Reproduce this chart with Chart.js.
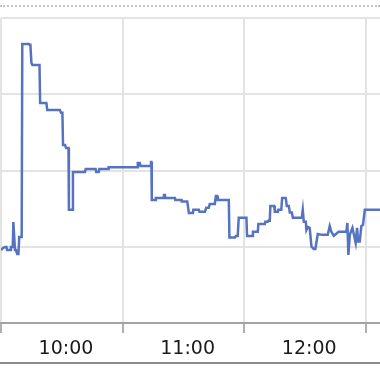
<!DOCTYPE html>
<html>
<head>
<meta charset="utf-8">
<script src="https://cdn.jsdelivr.net/npm/chart.js@4.4.0/dist/chart.umd.min.js"></script>
<style>
  html, body { margin: 0; padding: 0; background: #fff; overflow: hidden; }
  #wrap { position: relative; width: 380px; height: 372px; }
  #topRule { position: absolute; left: 0; top: 5px; width: 380px; border-top: 2px dotted #c4c4c4; }
  #bottomRule { position: absolute; left: 0; top: 362px; width: 380px; height: 2px; background: #8a8a8a; }
</style>
</head>
<body>
<div id="wrap">
  <canvas id="chart"></canvas>
  <div id="topRule"></div>
  <div id="bottomRule"></div>
</div>
<script>
// time in minutes since midnight, value on a 0..100 scale
const times = [
    570.0, 571.0, 572.0, 572.7, 573.0, 574.7, 574.9, 575.8, 576.1, 576.9,
    577.4, 578.0, 578.6, 579.0, 580.2, 580.5, 583.8, 584.1, 584.5, 585.0,
    585.5, 589.0, 589.3, 592.4, 592.8, 599.1, 599.6, 600.3, 600.6, 601.6,
    602.1, 603.3, 603.5, 605.3, 605.5, 611.4, 611.8, 616.7, 617.0, 618.2,
    618.5, 622.8, 623.1, 637.3, 637.5, 638.5, 638.8, 643.7, 644.0, 644.2,
    644.4, 646.2, 646.4, 650.1, 650.4, 650.9, 651.0, 655.8, 656.0, 659.1,
    659.2, 661.9, 662.7, 664.7, 664.9, 667.6, 667.9, 670.6, 671.3, 672.5,
    673.0, 675.5, 676.0, 676.7, 677.0, 682.4, 682.7, 685.4, 685.9, 686.8,
    687.3, 691.1, 691.4, 694.1, 694.3, 696.7, 697.0, 700.2, 700.4, 701.6,
    701.9, 702.6, 702.9, 704.8, 705.1, 706.6, 706.8, 708.3, 708.7, 710.5,
    711.0, 712.0, 712.5, 713.5, 714.0, 718.4, 718.9, 719.4, 720.4, 720.7,
    721.4, 722.3, 723.2, 724.3, 725.1, 726.3, 728.3, 731.2, 732.2, 733.0,
    734.2, 736.6, 740.4, 740.9, 741.4, 742.1, 743.4, 745.0, 745.7, 746.2,
    747.0, 747.8, 748.6, 749.5, 757.0
];
const values = [
    23.9, 24.6, 24.9, 24.9, 23.9, 23.9, 24.9, 24.9, 33.1, 23.9,
    23.9, 22.6, 22.6, 28.2, 28.2, 91.5, 91.5, 91.2, 91.2, 85.3,
    84.6, 84.6, 72.1, 72.1, 69.8, 69.8, 68.9, 68.9, 58.4, 58.4,
    57.4, 57.4, 37.1, 37.1, 49.5, 49.5, 50.5, 50.5, 49.5, 49.5,
    50.5, 50.5, 51.1, 51.1, 52.5, 52.5, 51.5, 51.5, 52.8, 52.8,
    40.3, 40.3, 41.0, 41.0, 42.0, 42.0, 41.0, 41.0, 40.3, 40.3,
    39.8, 39.8, 36.1, 36.1, 37.1, 37.1, 36.5, 36.5, 37.8, 37.8,
    39.0, 39.0, 41.6, 41.6, 40.3, 40.3, 28.0, 28.0, 28.5, 28.5,
    34.5, 34.5, 28.5, 28.5, 29.9, 29.9, 32.5, 32.5, 33.2, 33.2,
    33.5, 33.5, 38.4, 38.4, 36.5, 36.5, 37.1, 37.1, 41.0, 41.0,
    38.4, 38.4, 36.2, 36.2, 34.5, 34.5, 37.1, 33.2, 33.2, 30.5,
    31.5, 31.2, 25.0, 24.3, 24.3, 29.2, 28.9, 28.9, 31.8, 29.9,
    28.6, 29.9, 29.9, 32.8, 22.3, 28.9, 31.2, 26.3, 31.2, 26.7,
    26.7, 31.8, 32.1, 37.1, 37.1
];
const hourTicks = [570, 630, 690, 750]; // grid lines every hour, label sits in the middle

const points = times.map((t, i) => ({ x: t, y: values[i] }));

new Chart(document.getElementById('chart'), {
    type: 'line',
    data: {
        datasets: [{
            data: points,
            borderColor: '#5673c2',
            borderWidth: 2.5,
            pointRadius: 0,
            tension: 0,
            fill: false
        }]
    },
    options: {
        responsive: true,
        maintainAspectRatio: false,
        animation: false,
        layout: { padding: { top: 18, left: 0, right: 0, bottom: 0 } },
        plugins: { legend: { display: false }, tooltip: { enabled: false } },
        scales: {
            x: {
                type: 'linear',
                min: 570,
                max: 757,
                afterBuildTicks: scale => { scale.ticks = hourTicks.map(v => ({ value: v })); },
                afterFit: scale => {
                    scale.height = 49;
                    scale.paddingLeft = 0;
                    scale.paddingRight = 0;
                },
                grid: { color: '#e3e3e3', lineWidth: 2, tickColor: '#b0b0b0', tickLength: 10 },
                border: { color: '#a3a3a3', width: 2 },
                ticks: {
                    autoSkip: false,
                    maxRotation: 0,
                    padding: 5,
                    labelOffset: 65,
                    color: '#1a1a1a',
                    font: { family: 'DejaVu Sans', size: 19 },
                    callback: v => Math.round((v + 30) / 60) + ':00'
                }
            },
            y: {
                min: 0,
                max: 100,
                afterFit: scale => { scale.width = 1; },
                grid: { color: '#e3e3e3', lineWidth: 2, drawTicks: false },
                border: { display: false },
                ticks: { display: false, stepSize: 25 }
            }
        }
    }
});
</script>
</body>
</html>
